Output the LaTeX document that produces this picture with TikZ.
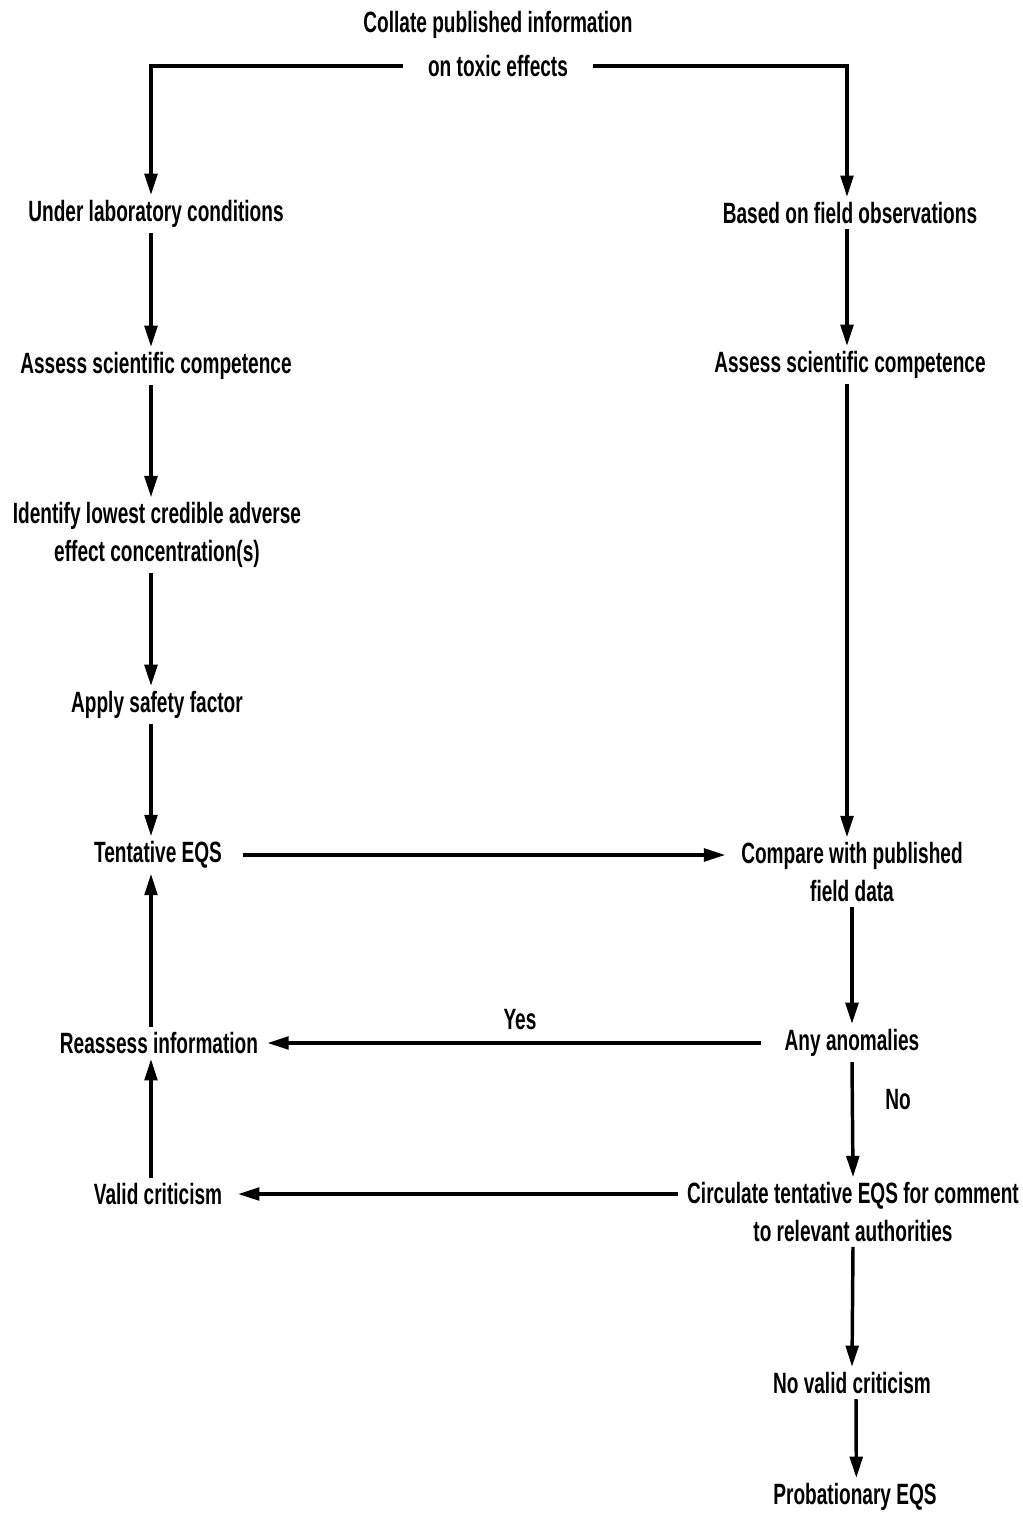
\documentclass[tikz,border=0pt]{standalone}
\usepackage{fontspec}
\setmainfont[FakeStretch=0.65]{Liberation Sans}
\usetikzlibrary{arrows.meta}
\begin{document}
\begin{tikzpicture}[x=0.75pt,y=-0.75pt,
  lbl/.style={font=\bfseries\fontsize{22}{28}\selectfont, align=center, inner sep=0pt, outer sep=4pt},
  arr/.style={line width=2.6pt, -{Triangle[length=16pt,width=9.5pt]}},
  ln/.style={line width=2.6pt}]
\useasboundingbox (0,0) rectangle (1022,1516);
% column positions for the vertical connectors
\coordinate (L) at (151,0);
\coordinate (R) at (847,0);
% starting point
\node[lbl] (collate) at (498,25) {Collate published information};
\node[lbl] (toxic) at (498,66) {on toxic effects};
% laboratory branch
\node[lbl] (under) at (156,214) {Under laboratory conditions};
\node[lbl] (assessL) at (156,366) {Assess scientific competence};
\node[lbl] (identify) at (157,535) {Identify lowest credible adverse\\effect concentration(s)};
\node[lbl] (apply) at (157,705) {Apply safety factor};
\node[lbl] (tent) at (158,855) {Tentative EQS};
\node[lbl] (reassess) at (159,1043) {Reassess information};
\node[lbl] (valid) at (158,1194) {Valid criticism};
% field branch
\node[lbl] (based) at (850,213) {Based on field observations};
\node[lbl] (assessR) at (850,365) {Assess scientific competence};
\node[lbl] (compare) at (852,872) {Compare with published\\field data};
\node[lbl] (anom) at (852,1043) {Any anomalies};
\node[lbl] (circ) at (853,1212) {Circulate tentative EQS for comment\\to relevant authorities};
\node[lbl] (novalid) at (852,1383) {No valid criticism};
\node[lbl] (prob) at (855,1497) {Probationary EQS};
% branch labels
\node[lbl] (yes) at (520,1020) {Yes};
\node[lbl] (no) at (898,1100) {No};
% connectors from the top
\draw[arr] ([xshift=-15pt]toxic.west) -| (under.north -| L);
\draw[arr] ([xshift=15pt]toxic.east) -| (based.north -| R);
% laboratory chain
\draw[arr] (under.south -| L) -- (assessL.north -| L);
\draw[arr] (assessL.south -| L) -- (identify.north -| L);
\draw[arr] (identify.south -| L) -- (apply.north -| L);
\draw[arr] (apply.south -| L) -- (tent.north -| L);
\draw[arr] (reassess.north -| L) -- (tent.south -| L);
\draw[arr] (valid.north -| L) -- (reassess.south -| L);
% field chain
\draw[arr] (based.south -| R) -- (assessR.north -| R);
\draw[arr] (assessR.south -| R) -- (compare.north -| R);
\draw[arr] (compare.south) -- (anom.north);
\draw[arr] (anom.south) -- (circ.north);
\draw[arr] (circ.south) -- (novalid.north);
\draw[arr] ([xshift=3pt]novalid.south) -- ([xshift=1pt]prob.north);
% cross connectors
\draw[arr, shorten <=12pt, shorten >=8pt] (tent.east) -- (compare.west |- tent.east);
\draw[arr, shorten <=14pt, shorten >=3pt] (anom.west) -- (reassess.east |- anom.west);
\draw[arr, shorten <=3pt, shorten >=8pt] (circ.west |- valid.east) -- (valid.east);
\end{tikzpicture}
\end{document}
